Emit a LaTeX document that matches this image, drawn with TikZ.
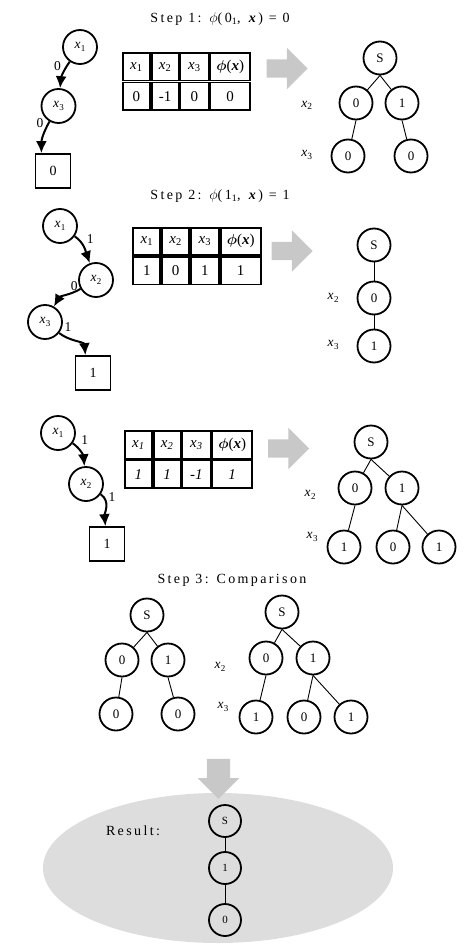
\documentclass[tikz,border=0pt]{standalone}
\usepackage{amsmath}
\usepackage{amssymb}
\usepackage{fontspec}
\setmainfont{Liberation Serif}
\newfontfamily\spaced[LetterSpace=17]{Liberation Serif}
\usepackage{tikz}
\usetikzlibrary{shapes,arrows,arrows.meta,matrix,positioning}
\definecolor{arrowgray}{RGB}{200,200,200}
\definecolor{resgray}{RGB}{221,221,221}
% variable with a low subscript (inside the circles)
\newcommand{\xv}[1]{\textit{x}\kern.5pt\raisebox{-3.5pt}{\fontsize{9}{9}\selectfont #1}}
% variable as in the tables
\newcommand{\xt}[1]{\textit{x}\textsubscript{#1}}
\newcommand{\xit}[1]{\textit{x\textsubscript{#1}}}
\tikzstyle{var} = [draw, circle, line width=1.8pt, minimum size=34pt, inner sep=0pt]
\tikzstyle{leaf} = [draw, rectangle, line width=1.8pt, minimum width=35pt,
    minimum height=34pt, inner sep=0pt, font=\fontsize{14}{16}\selectfont]
\tikzstyle{tnode} = [draw, circle, line width=1.8pt, minimum size=33pt, inner sep=0pt,
    font=\fontsize{13}{15}\selectfont]
\tikzstyle{branch} = [-{Latex[length=12pt,width=11pt]}, line width=2pt]
\tikzstyle{tedge} = [line width=0.9pt]
\tikzstyle{bigarrow} = [single arrow, fill=arrowgray, draw=none, inner sep=9pt,
    minimum height=41pt, single arrow head extend=11.5pt]
\tikzstyle{title} = [font=\spaced\fontsize{14}{17}\selectfont]
\tikzstyle{tbl} = [matrix of nodes, inner sep=0pt,
    nodes={draw, line width=1.8pt, outer sep=0pt, inner sep=0pt,
      minimum height=27.5pt, anchor=center, font=\fontsize{15}{17}\selectfont},
    column 1/.style={nodes={minimum width=27pt}},
    column 2/.style={nodes={minimum width=27pt}},
    column 3/.style={nodes={minimum width=28pt}},
    column 4/.style={nodes={minimum width=40pt}}]

\begin{document}
\begin{tikzpicture}[x=1pt, y=1pt, every node/.style={font=\fontsize{13.5}{16}\selectfont}]
  \useasboundingbox (0,0) rectangle (474,-950);

  % step 1
  \node [title] (t1) at (220,-19)
  {Step 1: $\phi$(0\textsubscript{1}, \textbf{\textit{x}}) = 0};
  \node [var] (a1) at (80,-47) {\xv{1}};
  \node [var] (a3) at (58.5,-106) {\xv{3}};
  \node [leaf] (a0) at (53,-171) {0};
  \draw [branch] (a1) to[out=235,in=85] node[pos=0.15,left=2pt] {0} (a3);
  \draw [branch] (a3) to[out=240,in=90] node[pos=0.05,left=1pt] {0} (a0.123);
  \matrix [tbl] (m1) at (186.5,-81.5) {
    \xt{1} & \xt{2} & \xt{3} & $\boldsymbol{\phi}$(\textbf{\textit{x}}) \\
    0 & -1 & 0 & 0 \\
  };
  \node [bigarrow] (g1) at (282.5,-68.5) {};
  \node [tnode] (s1) at (380,-58) {S};
  \node [tnode] (s1a) at (356,-103) {0};
  \node [tnode] (s1b) at (402,-103) {1};
  \node [tnode] (s1c) at (348,-156) {0};
  \node [tnode] (s1d) at (411,-156) {0};
  \node (l1a) at (307,-105) {\xt{2}};
  \node (l1b) at (307,-155) {\xt{3}};
  \draw [tedge] (s1.south) -- (s1a);
  \draw [tedge] (s1.south) -- (s1b);
  \draw [tedge] (s1a.south) -- (s1c);
  \draw [tedge] (s1b.south) -- (s1d);

  % step 2
  \node [title] (t2) at (220,-196)
  {Step 2: $\phi$(1\textsubscript{1}, \textbf{\textit{x}}) = 1};
  \node [var] (b1) at (60,-226) {\xv{1}};
  \node [var] (b2) at (96,-280) {\xv{2}};
  \node [var] (b3) at (45,-322) {\xv{3}};
  \node [leaf] (b0) at (93,-373) {1};
  \draw [branch] (b1) to[out=-35,in=110] node[pos=0.15,right=4pt] {1} (b2);
  \draw [branch] (b2) to[out=210,in=60] node[pos=0.2,above=-3pt] {0} (b3);
  \draw [branch] (b3) to[out=-38,in=95]
    node[pos=0.02,anchor=south west,inner sep=1pt,xshift=3pt] {1} (b0.113);
  \matrix [tbl] (m2) at (197,-256) {
    \xt{1} & \xt{2} & \xt{3} & $\boldsymbol{\phi}$(\textbf{\textit{x}}) \\
    1 & 0 & 1 & 1 \\
  };
  \node [bigarrow] (g2) at (287.5,-251) {};
  \node [tnode] (s2) at (374,-245) {S};
  \node [tnode] (s2a) at (374,-298) {0};
  \node [tnode] (s2b) at (374,-346) {1};
  \node (l2a) at (333,-298) {\xv{2}};
  \node (l2b) at (333,-345) {\xv{3}};
  \draw [tedge] (s2) -- (s2a);
  \draw [tedge] (s2a) -- (s2b);

  % step 2, second path
  \node [var] (c1) at (58,-433) {\xv{1}};
  \node [var] (c2) at (86,-484) {\xv{2}};
  \node [leaf] (c0) at (107,-544) {1};
  \draw [branch] (c1) to[out=-35,in=95] node[pos=0.25,above right=-1pt] {1} (c2);
  \draw [branch] (c2) to[out=-35,in=95] node[pos=0.1,right=1pt] {1} (c0);
  \matrix [tbl] (m3) at (188.5,-459.5) {
    \xit{1} & \xit{2} & \xit{3} & $\boldsymbol{\phi}$(\textbf{\textit{x}}) \\
    \textit{1} & \textit{1} & \textit{-1} & \textit{1} \\
  };
  \node [bigarrow] (g3) at (284,-448.5) {};
  \node [tnode] (s3) at (371,-442) {S};
  \node [tnode] (s3a) at (355,-488) {0};
  \node [tnode] (s3b) at (402,-488) {1};
  \node [tnode] (s3c) at (344,-547) {1};
  \node [tnode] (s3d) at (393,-547) {0};
  \node [tnode] (s3e) at (439,-547) {1};
  \node (l3a) at (310,-495) {\xv{2}};
  \node (l3b) at (312,-537) {\xv{3}};
  \draw [tedge] (s3.south) -- (s3a);
  \draw [tedge] (s3.south) -- (s3b);
  \draw [tedge] (s3a.south) -- (s3c);
  \draw [tedge] (s3b.south) -- (s3d);
  \draw [tedge] (s3b.south) -- (s3e);

  % step 3
  \node [title] (t3) at (232,-580) {Step 3: Comparison};
  \node [tnode] (p) at (147,-615) {S};
  \node [tnode] (pa) at (122,-660) {0};
  \node [tnode] (pb) at (168,-660) {1};
  \node [tnode] (pc) at (116,-714) {0};
  \node [tnode] (pd) at (178,-714) {0};
  \draw [tedge] (p.south) -- (pa);
  \draw [tedge] (p.south) -- (pb);
  \draw [tedge] (pa.south) -- (pc);
  \draw [tedge] (pb.south) -- (pd);
  \node (l4a) at (220,-667) {\xv{2}};
  \node (l4b) at (223,-707) {\xv{3}};
  \node [tnode] (q) at (282,-612) {S};
  \node [tnode] (qa) at (266,-658) {0};
  \node [tnode] (qb) at (313,-658) {1};
  \node [tnode] (qc) at (256,-717) {1};
  \node [tnode] (qd) at (304,-717) {0};
  \node [tnode] (qe) at (351,-717) {1};
  \draw [tedge] (q.south) -- (qa);
  \draw [tedge] (q.south) -- (qb);
  \draw [tedge] (qa.south) -- (qc);
  \draw [tedge] (qb.south) -- (qd);
  \draw [tedge] (qb.south) -- (qe);

  % result
  \node [ellipse, fill=resgray, minimum width=350pt, minimum height=150pt]
    (res) at (218,-868) {};
  \node [bigarrow, shape border rotate=270, minimum height=40pt, inner sep=11.5pt,
    single arrow head extend=9pt] (g4) at (218.5,-773) {};
  \node [title] (rl) at (133,-831) {Result:};
  \node [tnode, minimum size=32pt, font=\fontsize{11}{13}\selectfont] (r) at (225,-821) {S};
  \node [tnode, minimum size=32pt, font=\fontsize{11}{13}\selectfont] (ra) at (225,-868) {1};
  \node [tnode, minimum size=32pt, font=\fontsize{11}{13}\selectfont] (rb) at (225,-920) {0};
  \draw [tedge] (r) -- (ra);
  \draw [tedge] (ra) -- (rb);
\end{tikzpicture}
\end{document}
